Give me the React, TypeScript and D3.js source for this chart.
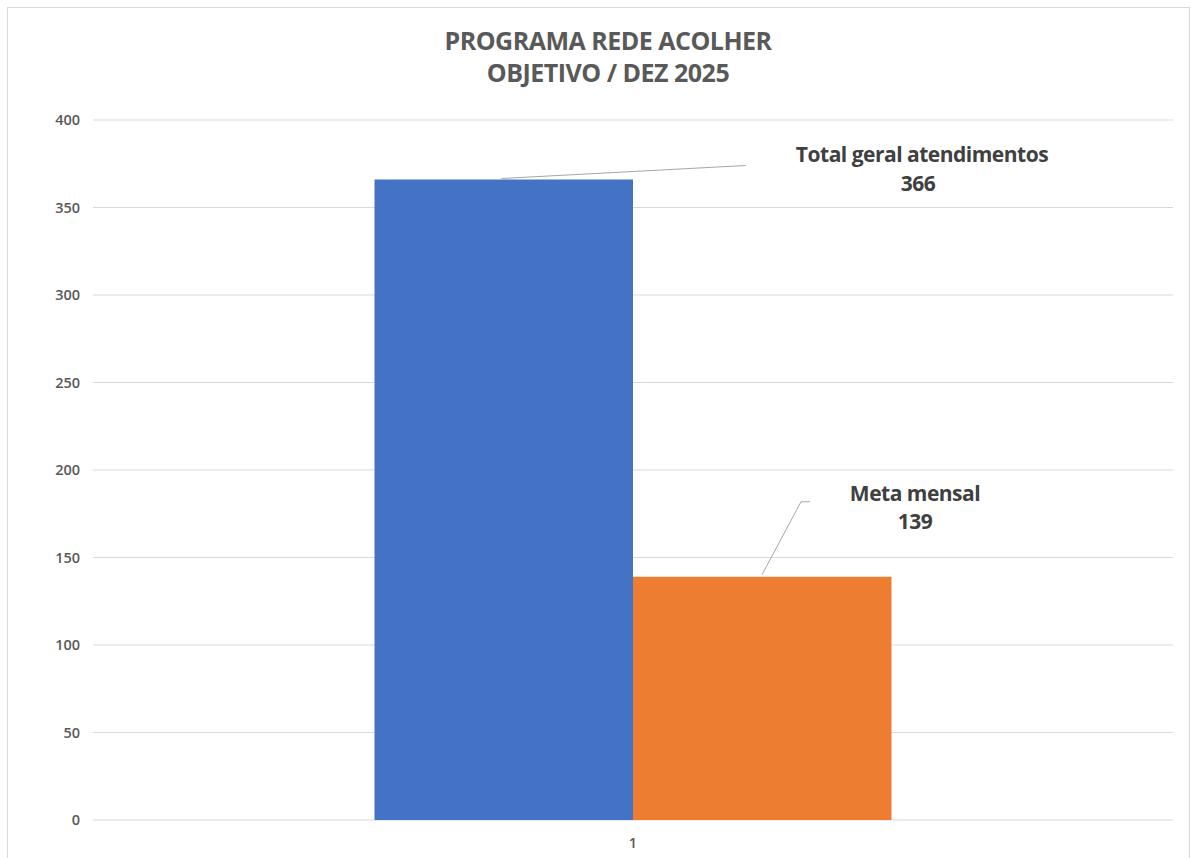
import React from "react";
import * as d3 from "d3";

const categories = ["1"];
const seriesNames = ["Total geral atendimentos", "Meta mensal"];
const seriesValues = [366, 139];
const seriesColors = ["#4472C4", "#ED7D31"];
const yTicks = [0, 50, 100, 150, 200, 250, 300, 350, 400];
const titleLines = ["PROGRAMA REDE ACOLHER", "OBJETIVO / DEZ 2025"];

const W = 1191;
const H = 858;
const FONT = "'Open Sans', 'Liberation Sans', sans-serif";

export default function App() {
  const left = 93;
  const right = 1173;
  const top = 120;
  const bottom = 820;

  const y = d3.scaleLinear().domain([0, 400]).range([bottom, top]);
  const x0 = d3.scaleBand().domain(categories).range([left, right]).paddingOuter(0.5445).paddingInner(0);
  const x1 = d3.scaleBand().domain(seriesNames).range([0, x0.bandwidth()]).padding(0);

  const cat = categories[0];
  const bx = (i: number) => (x0(cat) as number) + (x1(seriesNames[i]) as number);
  const bw = x1.bandwidth();

  const b0Top = y(seriesValues[0]);
  const b1Top = y(seriesValues[1]);
  const b0x = bx(0);
  const b1x = bx(1);

  const labelStyle = {
    fontFamily: FONT,
    fontWeight: 700,
    fontSize: 21,
    fill: "#404040",
    letterSpacing: -0.5,
  } as const;

  return (
    <svg width={W} height={H} style={{ position: "absolute", left: 0, top: 0, background: "#fff" }}>
      <rect x={0} y={0} width={W} height={H} fill="#fff" />
      <rect x={7.5} y={7.5} width={1182} height={870} fill="#fff" stroke="#d9d9d9" strokeWidth={1} />
      {titleLines.map((t, i) => (
        <text key={i} x={608} y={49.5 + i * 32} textAnchor="middle" fontFamily={FONT} fontWeight={700}
          fontSize={25} fill="#595959" letterSpacing={-0.5}>{t}</text>
      ))}
      {yTicks.map((t) => (
        <g key={t}>
          <line x1={left} x2={right} y1={y(t)} y2={y(t)} stroke="#d9d9d9" strokeWidth={1} />
          <text x={80} y={y(t) + 5} textAnchor="end" fontFamily={FONT} fontSize={14.5} fontWeight={600} fill="#595959">{t}</text>
        </g>
      ))}
      {seriesValues.map((v, i) => (
        <rect key={i} x={bx(i)} y={y(v)} width={bw} height={y(0) - y(v)} fill={seriesColors[i]} />
      ))}
      <text x={(x0(cat) as number) + x0.bandwidth() / 2} y={848} textAnchor="middle" fontFamily={FONT}
        fontSize={14.5} fontWeight={600} fill="#595959">{cat}</text>

      <line x1={b0x + 127} y1={b0Top - 1} x2={b0x + 371} y2={b0Top - 14} stroke="#a6a6a6" strokeWidth={1} />
      <polyline points={`${b1x + 129},${b1Top - 2} ${b1x + 168},${b1Top - 75} ${b1x + 177},${b1Top - 75}`}
        fill="none" stroke="#a6a6a6" strokeWidth={1} />

      <text x={922} y={162} textAnchor="middle" {...labelStyle}>{seriesNames[0]}</text>
      <text x={918} y={191} textAnchor="middle" {...labelStyle}>{seriesValues[0]}</text>
      <text x={915} y={501} textAnchor="middle" {...labelStyle}>{seriesNames[1]}</text>
      <text x={915} y={529} textAnchor="middle" {...labelStyle}>{seriesValues[1]}</text>
    </svg>
  );
}
